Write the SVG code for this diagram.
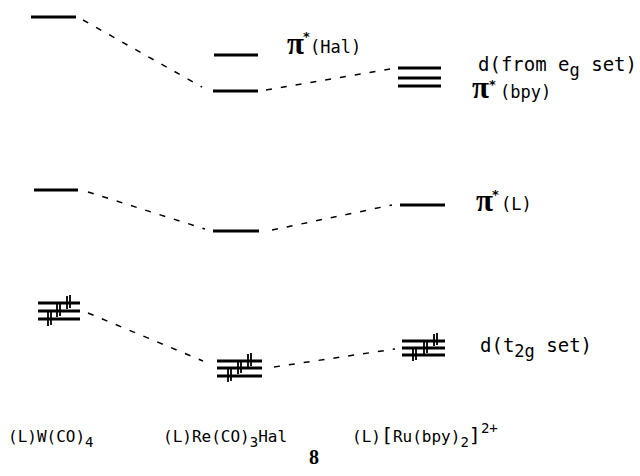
<svg xmlns="http://www.w3.org/2000/svg" width="640" height="476" viewBox="0 0 640 476">
<style>
.lv{stroke:#000;stroke-width:2.8;fill:none;stroke-linecap:butt}
.el{stroke:#000;stroke-width:1.8;fill:none}
.cn{stroke:#000;stroke-width:1.5;fill:none;stroke-dasharray:6 9}
.t{font-family:"DejaVu Sans Mono","Liberation Mono",monospace;font-size:19px;fill:#000}
.s{font-size:17px}
.pi{font-family:"Liberation Serif","DejaVu Serif",serif;font-weight:bold;font-size:31px;fill:#000}
.st{font-family:"DejaVu Sans","Liberation Sans",sans-serif;font-weight:bold;font-size:13px;fill:#000}
.n{font-family:"Liberation Serif",serif;font-weight:bold;font-size:20px;fill:#000}
</style>
<rect width="640" height="476" fill="#fff"/>
<g id="connectors">
<path class="cn" d="M83,20 L202,87"/>
<path class="cn" d="M266,90 L390,69"/>
<path class="cn" d="M88,192 L205,229"/>
<path class="cn" d="M272,230 L392,205"/>
<path class="cn" d="M88,313 L203,361"/>
<path class="cn" d="M274,367 L395,349"/>
</g>
<g id="w-pistar">
<line class="lv" x1="31" y1="17" x2="76" y2="17"/>
</g>
<g id="re-pistar-hal">
<line class="lv" x1="214" y1="55" x2="258" y2="55"/>
<text class="pi" x="287" y="54">π</text>
<text class="st" x="303" y="41">*</text>
<text class="t s" x="310" y="53">(Hal)</text>
</g>
<g id="re-lower">
<line class="lv" x1="213" y1="91" x2="258" y2="91"/>
</g>
<g id="ru-eg">
<line class="lv" x1="398" y1="68" x2="441" y2="68"/>
<text class="t" x="478" y="71">d(from e<tspan dy="5" class="s">g</tspan><tspan dy="-5"> set)</tspan></text>
</g>
<g id="ru-pistar-bpy">
<line class="lv" x1="398" y1="78" x2="441" y2="78"/>
<line class="lv" x1="398" y1="86" x2="441" y2="86"/>
<text class="pi" x="472" y="98">π</text>
<text class="st" x="489" y="89">*</text>
<text class="t s" x="500" y="98">(bpy)</text>
</g>
<g id="w-pil">
<line class="lv" x1="34" y1="190" x2="78" y2="190"/>
</g>
<g id="re-pil">
<line class="lv" x1="213" y1="231" x2="259" y2="231"/>
</g>
<g id="ru-pil">
<line class="lv" x1="400" y1="205" x2="445" y2="205"/>
<text class="pi" x="476" y="211">π</text>
<text class="st" x="492" y="199">*</text>
<text class="t s" x="501" y="210">(L)</text>
</g>
<g id="w-t2g">
<line class="lv" x1="38" y1="303" x2="80" y2="303"/>
<line class="lv" x1="38" y1="311" x2="80" y2="311"/>
<line class="lv" x1="38" y1="319" x2="80" y2="319"/>
<path class="el" d="M67,296V309M70,295V308M57,304V317M60,303V316M48,312V326M51,311V325"/>
</g>
<g id="re-t2g">
<line class="lv" x1="217" y1="361" x2="262" y2="361"/>
<line class="lv" x1="217" y1="368" x2="262" y2="368"/>
<line class="lv" x1="217" y1="376" x2="262" y2="376"/>
<path class="el" d="M248,354V367M251,353V366M238,361V374M241,360V373M228,369V382M231,368V381"/>
</g>
<g id="ru-t2g">
<line class="lv" x1="402" y1="341" x2="445" y2="341"/>
<line class="lv" x1="402" y1="348" x2="445" y2="348"/>
<line class="lv" x1="402" y1="355" x2="445" y2="355"/>
<path class="el" d="M434,334V346M437,333V345M424,341V354M427,340V353M413,348V361M416,347V360"/>
<text class="t" x="480" y="352">d(t<tspan dy="5" class="s">2g</tspan><tspan dy="-5"> set)</tspan></text>
</g>
<g id="labels">
<text class="t" x="8" y="442" style="font-size:16px">(L)W(CO)<tspan dy="5" style="font-size:14px">4</tspan></text>
<text class="t" x="163" y="442" style="font-size:16px">(L)Re(CO)<tspan dy="5" style="font-size:14px">3</tspan><tspan dy="-5">Hal</tspan></text>
<text class="t" x="352" y="442" style="font-size:16px">(L)<tspan style="font-size:20px">[</tspan>Ru(bpy)<tspan dy="5" style="font-size:14px">2</tspan><tspan dy="-5" style="font-size:20px">]</tspan><tspan dy="-9" style="font-size:14px">2+</tspan></text>
<text class="n" x="309" y="464">8</text>
</g>
</svg>
